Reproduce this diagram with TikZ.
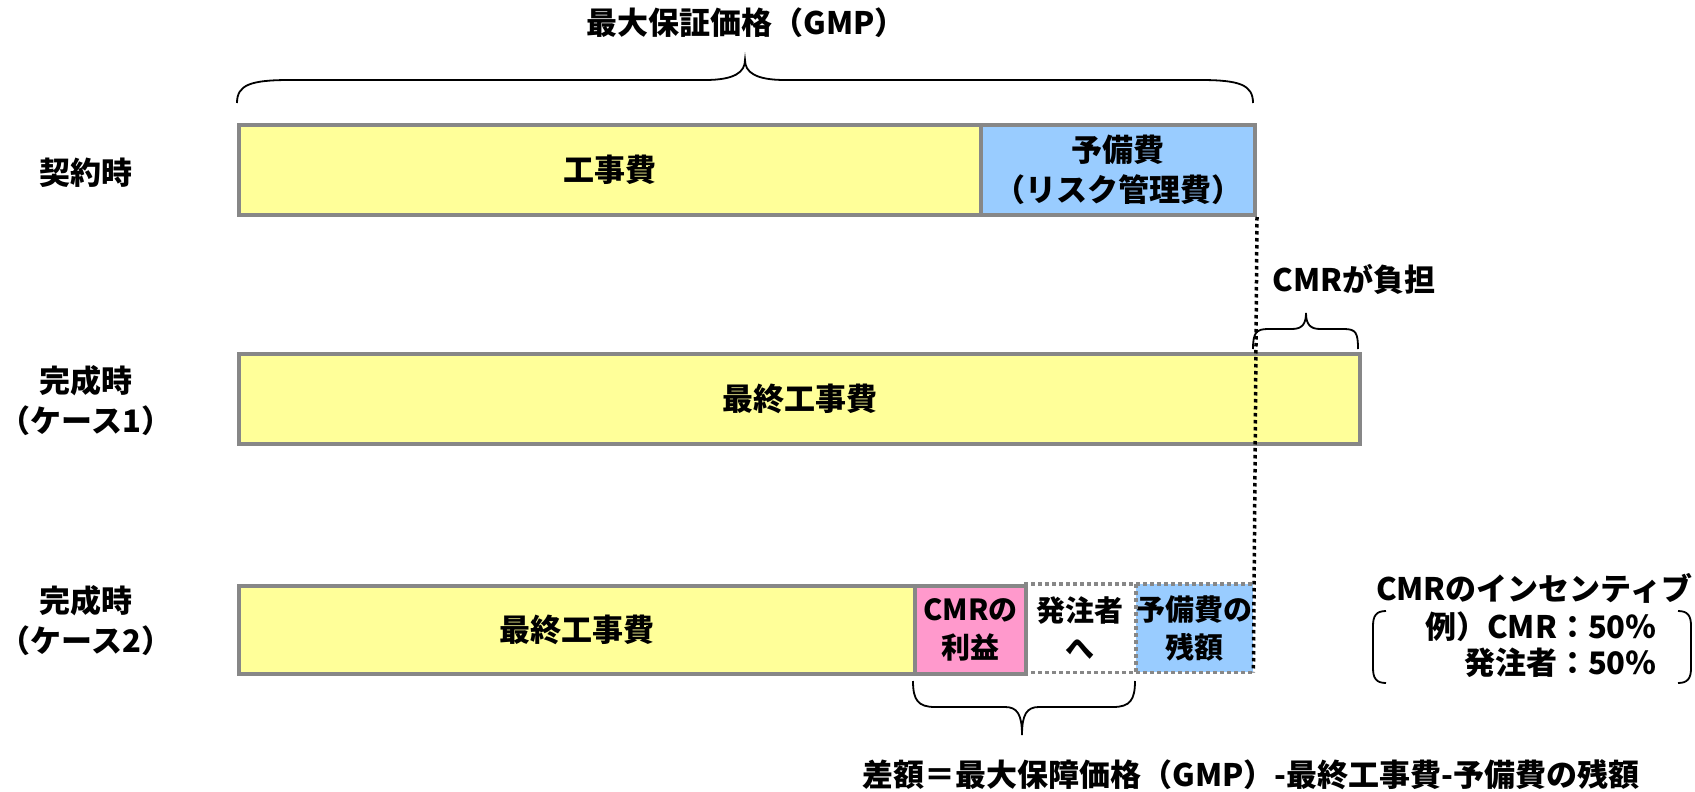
\documentclass[tikz,border=0pt]{standalone}
\usepackage{fontspec}
\setmainfont{Noto Sans CJK JP}[BoldFont={Noto Sans CJK JP Black}]
\definecolor{cyel}{HTML}{FFFF99}
\definecolor{cblue}{HTML}{99CCFF}
\definecolor{cpink}{HTML}{FF99CC}
\definecolor{cgray}{HTML}{878787}
\tikzset{
  txt/.style={font=\fontsize{31}{40}\selectfont\bfseries, align=center, inner sep=0pt},
  stxt/.style={font=\fontsize{29}{38}\selectfont\bfseries, align=center, inner sep=0pt},
  box/.style={rectangle, anchor=north west, draw=cgray, line width=4pt},
  dbox/.style={rectangle, anchor=north west},
  graydots/.style={draw=cgray, line width=3.5pt, dash pattern=on 3.5pt off 3.5pt},
  blackdots/.style={draw=black, line width=3.5pt, dash pattern=on 3.5pt off 3.5pt},
  bracepath/.style={draw=black, line width=1.8pt},
}
\begin{document}
\begin{tikzpicture}[x=1pt,y=-1pt]
\useasboundingbox (0,0) rectangle (1695,792);
% labels
\node[txt] (title) at (746,23) {最大保証価格（GMP）};
\node[txt] (l1) at (86,173) {契約時};
\node[txt] (l2) at (86,401) {完成時\\（ケース1）};
\node[txt] (l3) at (86,621) {完成時\\（ケース2）};
% bar 1
\node[box, txt, fill=cyel, minimum width=742pt, minimum height=90pt] (kouji) at (237,123) {工事費};
\node[box, txt, fill=cblue, minimum width=274pt, minimum height=90pt] (yobi) at (979,123) {予備費\\（リスク管理費）};
% bar 2
\node[box, txt, fill=cyel, minimum width=1121pt, minimum height=90pt] (saishu1) at (237,352) {最終工事費};
% bar 3
\node[box, txt, fill=cyel, minimum width=676pt, minimum height=88pt] (saishu2) at (237,584) {最終工事費};
\node[dbox, stxt, fill=white, minimum width=112pt, minimum height=88pt] (hatchu) at (1024,584) {発注者\\へ};
\node[dbox, stxt, fill=cblue, minimum width=117pt, minimum height=88pt] (zan) at (1136,584) {予備費の\\残額};
\draw[graydots] (hatchu.north west) -- (zan.north east);
\draw[graydots] (hatchu.south west) -- (zan.south east);
\draw[graydots] (zan.north west) -- (zan.south west);
\node[box, stxt, fill=cpink, minimum width=111pt, minimum height=88pt] (rieki) at (913,584) {CMRの\\利益};
% dotted guide
\draw[blackdots] (yobi.south east) -- (zan.south east);
% top brace
\draw[bracepath] (237,103) .. controls (237,85) and (250,80) .. (290,80) -- (705,80)
  .. controls (735,80) and (745,72) .. (745,60)
  .. controls (745,72) and (755,80) .. (785,80) -- (1200,80)
  .. controls (1240,80) and (1253,85) .. (1253,103);
% CMR brace
\draw[bracepath] (1253,349) .. controls (1253,333) and (1256,329) .. (1268,329) -- (1292,329)
  .. controls (1302,329) and (1306,324) .. (1306,313)
  .. controls (1306,324) and (1310,329) .. (1320,329) -- (1344,329)
  .. controls (1356,329) and (1358,333) .. (1358,349);
\node[txt] (futan) at (1354,279) {CMRが負担};
% bottom brace
\draw[bracepath] (913,681) .. controls (913,700) and (918,707) .. (935,707) -- (1005,707)
  .. controls (1017,707) and (1022,714) .. (1022,735)
  .. controls (1022,714) and (1027,707) .. (1039,707) -- (1113,707)
  .. controls (1130,707) and (1135,700) .. (1135,681);
\node[txt] (sagaku) at (1251,775) {差額＝最大保障価格（GMP）-最終工事費-予備費の残額};
% incentive
\node[txt] (inc1) at (1534,588) {CMRのインセンティブ};
\node[txt, anchor=east] (inc2) at (1657,627) {例）CMR：50％};
\node[txt, anchor=east] (inc3) at (1657,663) {発注者：50％};
\draw[bracepath] (1386,611) .. controls (1376,611) and (1373,616) .. (1373,626) -- (1373,668)
  .. controls (1373,678) and (1376,683) .. (1386,683);
\draw[bracepath] (1678,611) .. controls (1688,611) and (1691,616) .. (1691,626) -- (1691,668)
  .. controls (1691,678) and (1688,683) .. (1678,683);
\end{tikzpicture}
\end{document}
